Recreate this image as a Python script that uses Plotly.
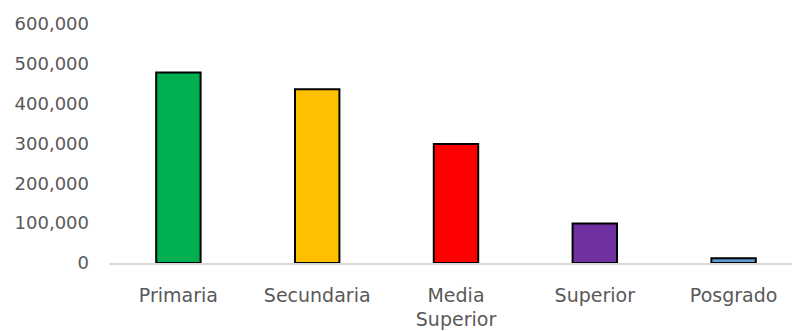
import plotly.graph_objects as go

# Enrollment by education level
categories = ["Primaria", "Secundaria", "Media<br>Superior", "Superior", "Posgrado"]
students = [478000, 436000, 299000, 99000, 12000]
bar_colors = ["#00B050", "#FFC000", "#FF0000", "#7030A0", "#5B9BD5"]

y_tick_values = [0, 100000, 200000, 300000, 400000, 500000, 600000]
y_tick_labels = ["0", "100,000", "200,000", "300,000", "400,000", "500,000", "600,000"]

W, H = 792, 331
left, right, top, bottom = 109, 0, 24, 68
cat_step = 138.8  # pixels per category
plot_w = W - left - right

fig = go.Figure(
    go.Bar(
        x=list(range(len(categories))),
        y=students,
        width=0.32,
        marker=dict(color=bar_colors, line=dict(color="#000000", width=2)),
    )
)

fig.update_layout(
    width=W,
    height=H,
    margin=dict(l=left, r=right, t=top, b=bottom, pad=0),
    paper_bgcolor="white",
    plot_bgcolor="white",
    showlegend=False,
    font=dict(family="DejaVu Sans", color="#595959"),
)

fig.update_xaxes(
    range=[-0.5, -0.5 + plot_w / cat_step],
    tickmode="array",
    tickvals=list(range(len(categories))),
    ticktext=categories,
    tickfont=dict(size=19, color="#595959"),
    showgrid=False,
    zeroline=False,
    showline=True,
    linecolor="#D9D9D9",
    linewidth=1.5,
    ticks="",
    ticklabelstandoff=14,
)

fig.update_yaxes(
    range=[0, 600000],
    tickmode="array",
    tickvals=y_tick_values,
    ticktext=y_tick_labels,
    tickfont=dict(size=18, color="#595959"),
    showgrid=False,
    zeroline=False,
    showline=False,
    ticks="",
    ticklabelstandoff=19,
)

fig.write_html("out.html")
